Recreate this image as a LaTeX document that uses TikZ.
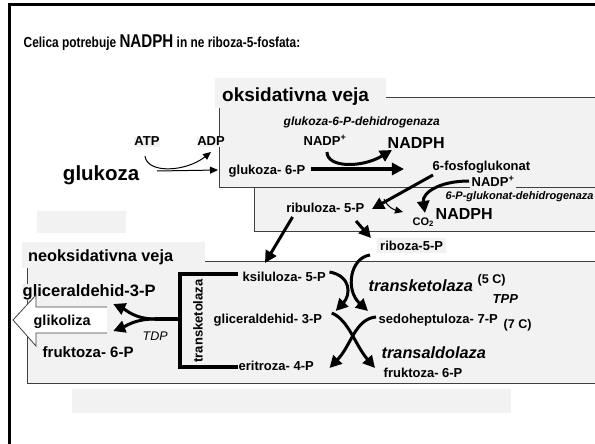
\documentclass[tikz,border=0pt]{standalone}
\usepackage{fontspec}
\setmainfont{Liberation Sans}
\newfontfamily\narrowfont{Liberation Sans}[FakeStretch=0.82]
\usetikzlibrary{calc, arrows.meta}
\definecolor{boxGrey}{RGB}{242, 242, 242}
\definecolor{edgeGrey}{RGB}{64, 64, 64}
\newcommand{\lNADP}{NADP\textsuperscript{+}}
\newcommand{\lCO}{CO\textsubscript{2}}

\begin{document}
\begin{tikzpicture} [
        x=1pt, y=-1pt,
        box/.style={draw=edgeGrey, fill=boxGrey, line width=0.9pt},
        label bg/.style={fill=boxGrey},
        small label/.style={font=\fontsize{13}{15}\selectfont\bfseries, inner sep=0.5pt},
        big label/.style={font=\fontsize{16}{18}\selectfont\bfseries, inner sep=0.5pt},
        section label/.style={font=\fontsize{19}{22}\selectfont\bfseries, inner sep=0pt},
        enzyme label/.style={font=\fontsize{12}{14}\selectfont\bfseries\itshape, inner sep=0.5pt},
        big enzyme/.style={font=\fontsize{16.3}{18}\selectfont\bfseries\itshape, inner sep=0.5pt},
        thin arrow/.style={line width=1pt, -{Triangle[length=8pt, width=7pt]}},
        thick arrow/.style={line width=3pt, -{Triangle[length=12pt, width=12pt]}},
        thick line/.style={line width=3.5pt}
    ]

    \useasboundingbox (0,0) rectangle (595,444);
    \draw[line width=3pt] (9,5) rectangle (650,500);

    \node[small label, font=\narrowfont\fontsize{14.5}{17}\selectfont\bfseries, anchor=base west] (title) at (23,48)
        {Celica potrebuje {\fontsize{18.5}{20}\selectfont NADPH} in ne riboza-5-fosfata:};

    % oksidativna veja
    \draw[box] (219,97) rectangle (640,187);
    \draw[box] (254,187) rectangle (640,231);
    \fill[label bg] (215,78) rectangle (386,108);
    \node[section label, anchor=base west] (oks) at (222,102) {oksidativna veja};

    % neoksidativna veja
    \draw[box] (27,261) rectangle (640,383);
    \fill[label bg] (22,242) rectangle (205,268);
    \node[section label, font=\fontsize{16.3}{20}\selectfont\bfseries, anchor=base west] (neoks) at (28,261.5) {neoksidativna veja};

    \fill[label bg] (37,211) rectangle (126,233);
    \fill[label bg] (72,389) rectangle (511,413);

    \node[small label, label bg, anchor=base] (atp) at (147,146) {ATP};
    \node[small label, label bg, anchor=base] (adp) at (211,146) {ADP};
    \node[big label, font=\fontsize{20.5}{22}\selectfont\bfseries, anchor=base east] (gluk) at (140,180) {glukoza};
    \node[small label, anchor=base west] (g6p) at (228,174) {glukoza- 6-P};
    \node[enzyme label, anchor=base west] (g6pdh) at (283,125) {glukoza-6-P-dehidrogenaza};
    \node[small label, anchor=base west] (nadp a) at (303,145) {\lNADP};
    \node[big label, anchor=base west] (nadph a) at (387,148) {NADPH};
    \node[small label, anchor=base west] (fosfo) at (432,170) {6-fosfoglukonat};
    \node[small label, label bg, inner sep=1.5pt, anchor=base west] (nadp b) at (470,186) {\lNADP};
    \node[enzyme label, font=\fontsize{11}{13}\selectfont\bfseries\itshape, anchor=base west] (pgdh) at (445,199) {6-P-glukonat-dehidrogenaza};
    \node[small label, anchor=base east] (ribul) at (365,212) {ribuloza- 5-P};
    \node[small label, font=\fontsize{11}{13}\selectfont\bfseries, anchor=base west] (co2) at (412,225) {\lCO};
    \node[big label, anchor=base west] (nadph b) at (435,219) {NADPH};
    \node[small label, label bg, inner sep=3pt, anchor=base west] (ribose) at (377,250) {riboza-5-P};

    \node[small label, anchor=base west] (ksil) at (242,281) {ksiluloza- 5-P};
    \node[small label, anchor=base west] (gap) at (213,323) {gliceraldehid- 3-P};
    \node[small label, anchor=base west] (erit) at (238,370) {eritroza- 4-P};
    \node[small label, rotate=90] (tkl) at (198,321) {transketolaza};

    \node[big label, font=\fontsize{16.5}{18}\selectfont\bfseries, label bg, anchor=base west] (gap out) at (22,296) {gliceraldehid-3-P};
    \fill[white] (107,307) -- (36,307) -- (36,295) -- (13,320) -- (36,346) -- (36,333) -- (107,333) -- cycle;
    \draw[edgeGrey, line width=0.8pt] (107,307) -- (36,307) -- (36,295) -- (13,320) -- (36,346) -- (36,333) -- (107,333);
    \node[big label, font=\fontsize{14.4}{17}\selectfont\bfseries, anchor=base west] (glyk) at (33,325) {glikoliza};
    \node[big label, font=\fontsize{15}{17}\selectfont\bfseries, anchor=base west] (fruk out) at (42,357) {fruktoza- 6-P};
    \node[font=\fontsize{12.5}{15}\selectfont\itshape, inner sep=0.5pt, anchor=base west] (tdp) at (142,340) {TDP};

    \node[big enzyme, anchor=base west] (tk) at (368,291) {transketolaza};
    \node[small label, font=\fontsize{12.6}{15}\selectfont\bfseries, anchor=base west] (c5) at (477,283) {(5 C)};
    \node[enzyme label, font=\fontsize{13}{15}\selectfont\bfseries\itshape, anchor=base west] (tpp) at (492,303) {TPP};
    \node[small label, anchor=base west] (sedo) at (378,323) {sedoheptuloza- 7-P};
    \node[small label, font=\fontsize{12.6}{15}\selectfont\bfseries, anchor=base west] (c7) at (503,328) {(7 C)};
    \node[big enzyme, anchor=base west] (ta) at (381,358) {transaldolaza};
    \node[small label, anchor=base west] (fruk) at (383,377) {fruktoza- 6-P};

    % oksidativna arrows
    \draw[thin arrow] ($(gluk.base east)+(17,-9)$) -- ($(g6p.base west)+(-10,-4)$);
    \draw[thin arrow] ($(atp.base)+(-2,10)$) .. controls +(2,18) and +(-25,20) .. ($(adp.base)+(0,6)$);
    \draw[thick arrow, line width=4pt] ($(g6p.base east)+(5,-5)$) -- ++(93,0);
    \draw[thick arrow] ($(nadp a.base west)+(24,7)$) .. controls +(0,16) and +(-30,18) .. ($(nadph a.base west)+(5,2)$);
    \draw[thick arrow] ($(fosfo.base west)+(1,5)$) -- ($(ribul.base east)+(7,-3)$);
    \draw[thick arrow] ($(nadp b.base west)+(-1,-5)$) .. controls +(-30,0) and +(-3,-20) .. ($(nadph b.base west)+(-10,-6)$);
    \draw[thin arrow] ($(ribul.base east)+(19,-13)$) .. controls +(4,9) and +(-8,-2) .. ($(co2.base west)+(-9,-13)$);
    \draw[thick arrow] ($(ribul.base east)+(-9,9)$) -- ($(ribose.base west)+(-6,-12)$);
    \draw[thick arrow] ($(ribul.base west)+(7,5)$) -- ($(ksil.base west)+(23,-18)$);

    % neoksidativna arrows
    \draw[thick arrow] ($(ribose.base west)+(-7,5)$) .. controls +(-20,3) and +(-23,-21) .. ($(sedo.base west)+(-10,-12)$);
    \draw[thick arrow] ($(ksil.base east)+(3,-9)$) .. controls +(22,4) and +(15,-16) .. ($(gap.base east)+(13,-12)$);
    \draw[thick arrow] ($(gap.base east)+(9,-10)$) .. controls +(17,7) and +(-20,-23) .. ($(fruk.base west)+(-8,-9)$);
    \draw[thick arrow] ($(sedo.base west)+(-2,-6)$) .. controls +(-21,2) and +(22,-23) .. ($(erit.base east)+(15,-2)$);

    \draw[thick line] ($(ksil.base west)+(-4,-7)$) -- ++(-58,0) |- ($(erit.base west)+(0,-3)$);
    \draw[thick line] ($(tkl.center)+(-18,-2)$) -- ++(-25,0) coordinate (fork);
    \draw[thick arrow] (fork) .. controls +(-20,0) and +(13,6) .. ($(glyk.base east)+(22,-21)$);
    \draw[thick arrow] (fork) .. controls +(-20,0) and +(13,-5) .. ($(glyk.base east)+(22,6)$);

\end{tikzpicture}
\end{document}
